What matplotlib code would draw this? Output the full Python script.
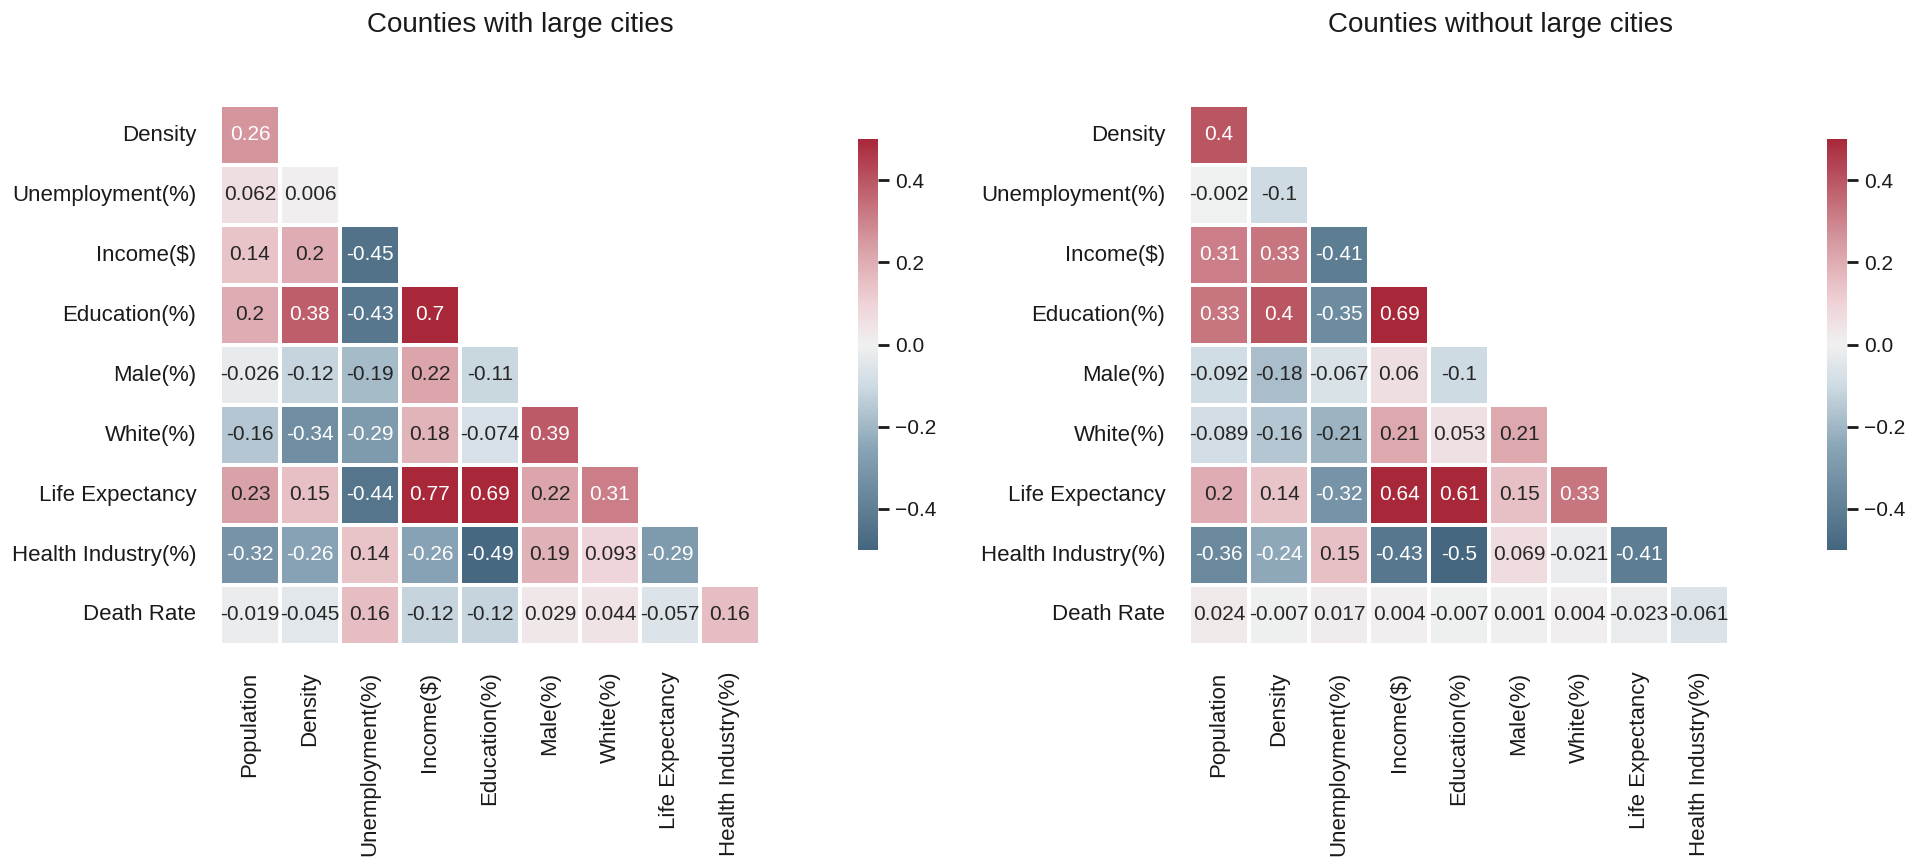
import numpy as np
import matplotlib
matplotlib.use("Agg")
import matplotlib.pyplot as plt
from matplotlib.colors import LinearSegmentedColormap
import seaborn as sns

plt.rcParams['font.family'] = ['Liberation Sans', 'DejaVu Sans']
plt.rcParams['text.color'] = '#1a1a1a'
plt.rcParams['xtick.color'] = '#1a1a1a'
plt.rcParams['ytick.color'] = '#1a1a1a'

row_labels = ["Density", "Unemployment(%)", "Income($)", "Education(%)", "Male(%)",
              "White(%)", "Life Expectancy", "Health Industry(%)", "Death Rate"]
col_labels = ["Population", "Density", "Unemployment(%)", "Income($)", "Education(%)",
              "Male(%)", "White(%)", "Life Expectancy", "Health Industry(%)"]

title_left = "Counties with large cities"
title_right = "Counties without large cities"

# lower-triangle rows (row i has i+1 values)
large_rows = [
    [0.26],
    [0.062, 0.006],
    [0.14, 0.2, -0.45],
    [0.2, 0.38, -0.43, 0.7],
    [-0.026, -0.12, -0.19, 0.22, -0.11],
    [-0.16, -0.34, -0.29, 0.18, -0.074, 0.39],
    [0.23, 0.15, -0.44, 0.77, 0.69, 0.22, 0.31],
    [-0.32, -0.26, 0.14, -0.26, -0.49, 0.19, 0.093, -0.29],
    [-0.019, -0.045, 0.16, -0.12, -0.12, 0.029, 0.044, -0.057, 0.16],
]
small_rows = [
    [0.4],
    [-0.002, -0.1],
    [0.31, 0.33, -0.41],
    [0.33, 0.4, -0.35, 0.69],
    [-0.092, -0.18, -0.067, 0.06, -0.1],
    [-0.089, -0.16, -0.21, 0.21, 0.053, 0.21],
    [0.2, 0.14, -0.32, 0.64, 0.61, 0.15, 0.33],
    [-0.36, -0.24, 0.15, -0.43, -0.5, 0.069, -0.021, -0.41],
    [0.024, -0.007, 0.017, 0.004, -0.007, 0.001, 0.004, -0.023, -0.061],
]

def to_matrix(rows):
    n = len(rows)
    m = np.full((n, n), np.nan)
    for i, r in enumerate(rows):
        m[i, :len(r)] = r
    return m

cmap = LinearSegmentedColormap.from_list(
    "rb", [(0.0, "#44667f"), (0.25, "#8aa5b6"), (0.4, "#cedbe3"),
           (0.5, "#f0f0f0"), (0.6, "#efd3d7"), (0.75, "#d69aa1"), (1.0, "#a8283a")])

W, H = 1920, 864
fig = plt.figure(figsize=(19.2, 8.64), dpi=100)

def add_panel(rows, gx, cbx, title, tx):
    data = to_matrix(rows)
    mask = np.isnan(data)
    ax = fig.add_axes([gx / W, 1 - 645 / H, 540 / W, 540 / H])
    cax = fig.add_axes([cbx / W, 1 - 550 / H, 20 / W, 411 / H])
    sns.heatmap(data, mask=mask, cmap=cmap, vmin=-0.5, vmax=0.5, center=0,
                linewidths=1.5, linecolor='white', annot=True, fmt='.2g',
                annot_kws={'fontsize': 15}, ax=ax, cbar_ax=cax,
                xticklabels=col_labels, yticklabels=row_labels)
    ax.tick_params(axis='both', length=0, labelsize=16)
    ax.tick_params(axis='y', pad=17, labelrotation=0)
    ax.tick_params(axis='x', pad=19, labelrotation=90)
    cax.set_yticks([-0.4, -0.2, 0.0, 0.2, 0.4])
    cax.tick_params(length=8, width=2, labelsize=15, pad=4)
    for s in cax.spines.values():
        s.set_visible(False)
    fig.text(tx / W, 1 - 25 / H, title, ha='center', va='center', fontsize=20)

add_panel(large_rows, 220, 858, title_left, 520)
add_panel(small_rows, 1189, 1827, title_right, 1500)

fig.savefig("out.png", dpi=100, facecolor='white')
